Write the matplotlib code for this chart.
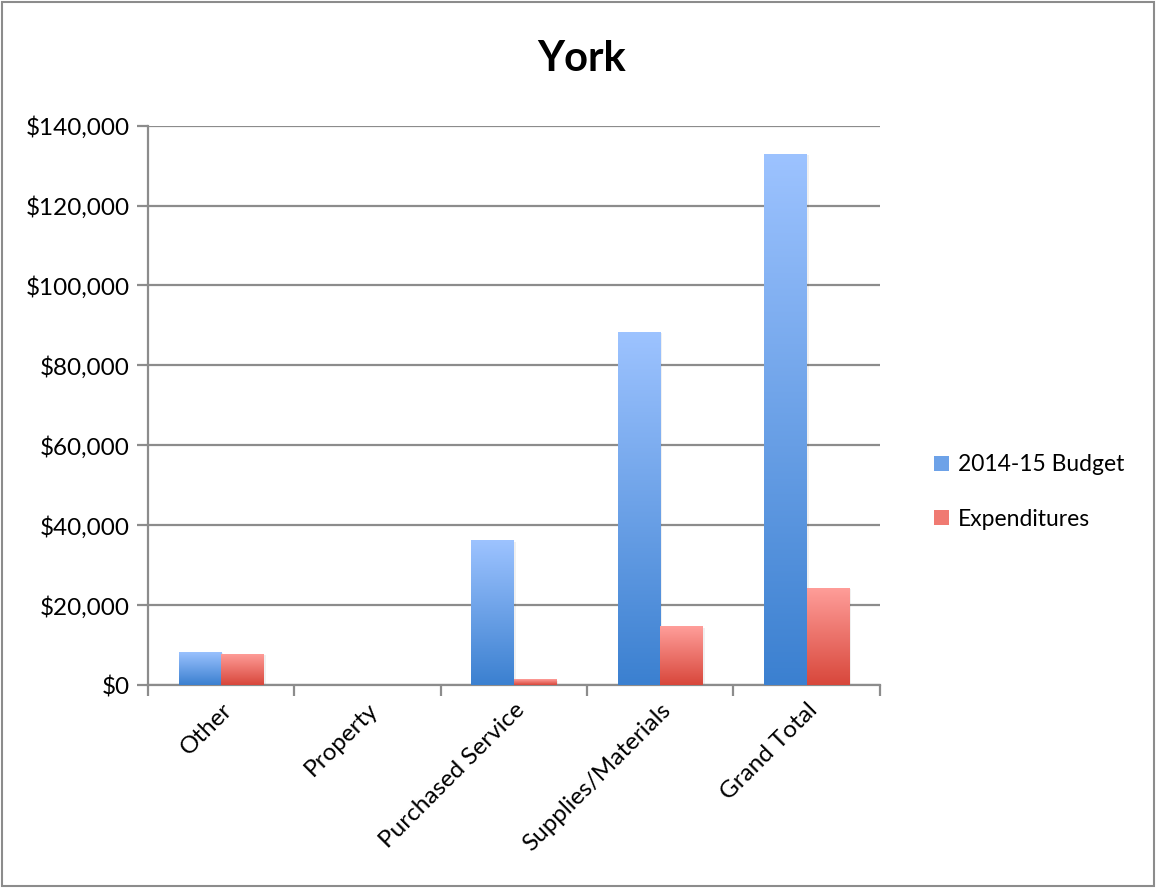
import numpy as np
import matplotlib.pyplot as plt
from matplotlib.colors import LinearSegmentedColormap
from matplotlib.patches import Rectangle
from matplotlib.ticker import FuncFormatter

categories = ["Other", "Property", "Purchased Service", "Supplies/Materials", "Grand Total"]
budget = [8400, 0, 36200, 88300, 132900]
expenditures = [7900, 0, 1400, 14700, 24300]
series_names = ["2014-15 Budget", "Expenditures"]

plt.rcParams["font.family"] = ["Lato", "DejaVu Sans"]

blue_cmap = LinearSegmentedColormap.from_list("blue", ["#3b80d0", "#9dc3ff"])
red_cmap = LinearSegmentedColormap.from_list("red", ["#d8473b", "#ff9e9a"])

fig = plt.figure(figsize=(11.56, 8.88), dpi=100)
ax = fig.add_axes([0.128, 0.2285, 0.633, 0.630])

width = 0.29
x = np.arange(len(categories))
grad = np.linspace(0, 1, 256).reshape(-1, 1)


def gradient_bars(xs, vals, cmap, label, offset):
    bars = ax.bar(xs + offset, vals, width, align="edge", color="none",
                  edgecolor="none", label=label, zorder=3)
    for b in bars:
        h = b.get_height()
        if h <= 0:
            continue
        x0 = b.get_x()
        # soft shadow
        ax.add_patch(Rectangle((x0 + 0.015, 0), width, h - 300, color="#000000",
                               alpha=0.06, zorder=2.5, lw=0))
        im = ax.imshow(grad, cmap=cmap, aspect="auto", origin="lower",
                       extent=(x0, x0 + width, 0, h), zorder=3)
        im.set_clip_path(b)
    return bars


gradient_bars(x, budget, blue_cmap, series_names[0], -width)
gradient_bars(x, expenditures, red_cmap, series_names[1], 0)

ax.set_xlim(-0.5, len(categories) - 0.5)
ax.set_ylim(0, 140000)
ax.set_yticks(np.arange(0, 140001, 20000))
ax.yaxis.set_major_formatter(FuncFormatter(lambda v, p: f"${v:,.0f}"))
ax.yaxis.grid(True, color="#8c8c8c", linewidth=1.6, zorder=1)
ax.set_axisbelow(True)

ax.set_xticks(x)
ax.set_xticklabels(categories, rotation=45, ha="right", rotation_mode="anchor",
                   fontsize=17.5)
ax.set_xticks(np.arange(-0.5, len(categories)), minor=True)
ax.tick_params(axis="x", which="major", length=0, pad=10)
ax.tick_params(axis="x", which="minor", length=8, width=1.6, color="#8c8c8c")
ax.tick_params(axis="y", length=8, width=1.6, color="#8c8c8c", labelsize=17.5, pad=5)

for s in ["top", "right"]:
    ax.spines[s].set_visible(False)
for s in ["left", "bottom"]:
    ax.spines[s].set_color("#8c8c8c")
    ax.spines[s].set_linewidth(1.6)

fig.text(0.503, 0.933, "York", fontsize=30, fontweight="bold", ha="center", va="center")

handles = [Rectangle((0, 0), 1, 1, facecolor="#6da2e8", edgecolor="none"),
           Rectangle((0, 0), 1, 1, facecolor="#f07a72", edgecolor="none")]
fig.legend(handles, series_names, loc="center left", bbox_to_anchor=(0.79, 0.446),
           frameon=False, fontsize=16.5, handlelength=0.65, handleheight=0.65,
           handletextpad=0.4, labelspacing=1.45)

fig.patches.append(Rectangle((0.002, 0.002), 0.996, 0.996, transform=fig.transFigure,
                             fill=False, edgecolor="#8c8c8c", linewidth=1.5))

fig.savefig("out.png", dpi=100)
